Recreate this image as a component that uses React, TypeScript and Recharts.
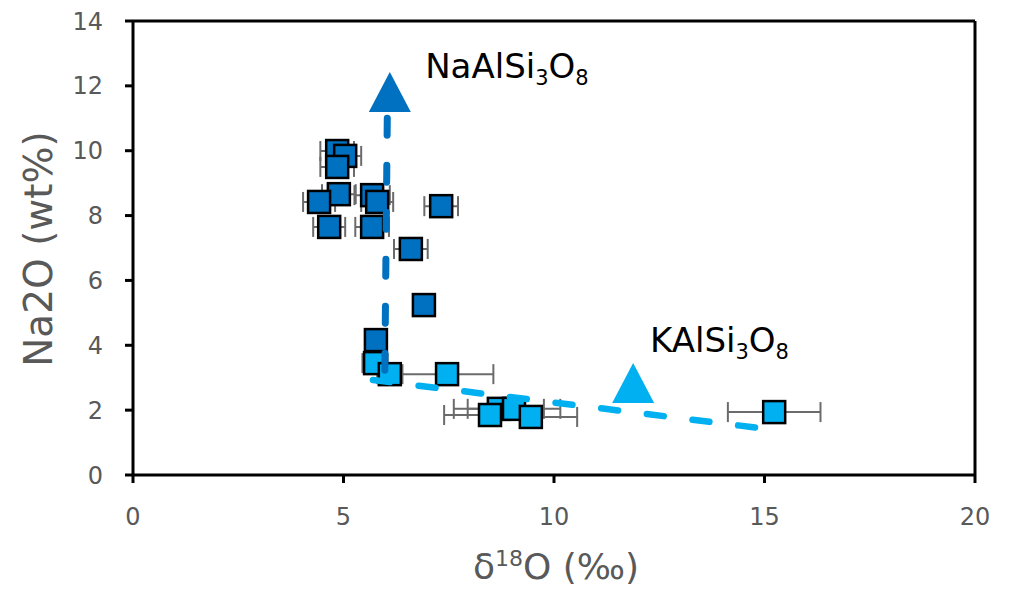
import React from 'react';
import { ScatterChart, Scatter, XAxis, YAxis, ErrorBar, ReferenceLine } from 'recharts';

// Na-rich feldspar analyses (dark blue)
const naX = [4.85, 5.04, 4.85, 4.89, 4.42, 5.68, 5.80, 4.66, 5.68, 7.32, 6.60, 6.91, 5.77];
const naY = [9.99, 9.84, 9.50, 8.66, 8.42, 8.63, 8.42, 7.65, 7.65, 8.29, 6.97, 5.24, 4.16];
const naErr = [0.4, 0.38, 0.4, 0.4, 0.38, 0.42, 0.38, 0.38, 0.4, 0.4, 0.4, 0.2, 0.2];

// K-rich feldspar analyses (light blue)
const kX = [5.75, 6.10, 7.46, 8.69, 9.05, 8.48, 9.45, 15.23];
const kY = [3.45, 3.11, 3.11, 2.04, 2.04, 1.85, 1.79, 1.94];
const kErr = [0.3, 0.3, 1.1, 1.07, 1.1, 1.09, 1.1, 1.1];

// Mixing lines
const naLineX = [6.04, 5.98];
const naLineY = [11.0, 3.0];
const kLineX = [5.70, 15.06];
const kLineY = [2.93, 1.42];

// End-members (triangles)
const endNaX = [6.1];
const endNaY = [11.81];
const endKX = [11.88];
const endKY = [2.84];

// Annotation labels
const labelX = [6.94, 12.28];
const labelY = [12.24, 3.79];
const labelMain = ['NaAlSi', 'KAlSi'];

const xTicks = [0, 5, 10, 15, 20];
const yTicks = [0, 2, 4, 6, 8, 10, 12, 14];

const DARK = '#0070C0';
const LIGHT = '#00B0F0';
const FONT = '"DejaVu Sans", sans-serif';
const GREY = '#595959';

const naData = naX.map((x, i) => ({ x, y: naY[i], xerr: naErr[i] }));
const kData = kX.map((x, i) => ({ x, y: kY[i], xerr: kErr[i] }));
const naLine = naLineX.map((x, i) => ({ x, y: naLineY[i] }));
const kLine = kLineX.map((x, i) => ({ x, y: kLineY[i] }));
const endNa = endNaX.map((x, i) => ({ x, y: endNaY[i] }));
const endK = endKX.map((x, i) => ({ x, y: endKY[i] }));
const labels = labelX.map((x, i) => ({ x, y: labelY[i], name: labelMain[i] }));

const makeSquare = (color: string) => (props: any) => {
  const { cx, cy } = props;
  if (cx == null || cy == null) return <g />;
  return (
    <rect x={cx - 11} y={cy - 11} width={22} height={22} fill={color} stroke="#000" strokeWidth={2.5} />
  );
};

const makeTriangle = (color: string) => (props: any) => {
  const { cx, cy } = props;
  if (cx == null || cy == null) return <g />;
  return (
    <polygon
      points={`${cx},${cy - 20} ${cx - 21},${cy + 20} ${cx + 21},${cy + 20}`}
      fill={color}
    />
  );
};

const Nothing = () => <g />;

const LabelShape = (props: any) => {
  const { cx, cy, payload } = props;
  if (cx == null || cy == null) return <g />;
  return (
    <text x={cx} y={cy} fontSize={34} fontFamily={FONT} fill="#000">
      <tspan>{payload.name}</tspan>
      <tspan fontSize={21} dy={7}>3</tspan>
      <tspan dy={-7}>O</tspan>
      <tspan fontSize={21} dy={7}>8</tspan>
    </text>
  );
};

const YTitle = (props: any) => {
  const vb = props.viewBox || { x: 0, y: 13, width: 125, height: 454 };
  const x = vb.x + 44;
  const y = vb.y + vb.height / 2 + 1;
  return (
    <text
      x={x}
      y={y}
      transform={`rotate(-90, ${x}, ${y})`}
      textAnchor="middle"
      fontSize={39}
      fontFamily={FONT}
      fill={GREY}
    >
      Na2O (wt%)
    </text>
  );
};

const XTitle = (props: any) => {
  const vb = props.viewBox || { x: 125, y: 467, width: 842, height: 114 };
  const x = vb.x + vb.width / 2 + 2;
  const y = vb.y + 104;
  return (
    <text x={x} y={y} textAnchor="middle" fontSize={36} fontFamily={FONT} fill={GREY}>
      <tspan>δ</tspan>
      <tspan fontSize={22} dy={-13}>18</tspan>
      <tspan dy={13}>O (‰)</tspan>
    </text>
  );
};

export default function App() {
  return (
    <ScatterChart
      width={1007}
      height={581}
      margin={{ top: 13, right: 40, bottom: 0, left: 0 }}
      style={{ fontFamily: FONT }}
    >
      <XAxis
        type="number"
        dataKey="x"
        domain={[0, 20]}
        ticks={xTicks}
        allowDataOverflow
        height={114}
        axisLine={{ stroke: '#000', strokeWidth: 3 }}
        tickLine={{ stroke: '#000', strokeWidth: 3 }}
        tickSize={8}
        tickMargin={25}
        tick={{ fill: GREY, fontSize: 24, fontFamily: FONT }}
        label={{ content: XTitle }}
      />
      <YAxis
        type="number"
        dataKey="y"
        domain={[0, 14]}
        ticks={yTicks}
        allowDataOverflow
        width={125}
        axisLine={{ stroke: '#000', strokeWidth: 3 }}
        tickLine={{ stroke: '#000', strokeWidth: 3 }}
        tickSize={8}
        tickMargin={22}
        tick={{ fill: GREY, fontSize: 24, fontFamily: FONT }}
        label={{ content: YTitle }}
      />
      <ReferenceLine y={14} stroke="#000" strokeWidth={3} />
      <ReferenceLine x={20} stroke="#000" strokeWidth={3} />

      <Scatter data={naData} shape={makeSquare(DARK)} isAnimationActive={false}>
        <ErrorBar dataKey="xerr" direction="x" width={10} stroke="#6b6b6b" strokeWidth={2} />
      </Scatter>
      <Scatter data={kData} shape={makeSquare(LIGHT)} isAnimationActive={false}>
        <ErrorBar dataKey="xerr" direction="x" width={10} stroke="#6b6b6b" strokeWidth={2} />
      </Scatter>

      <Scatter
        data={naLine}
        shape={Nothing}
        line={{ stroke: DARK, strokeWidth: 7, strokeDasharray: '17 30', strokeLinecap: 'round' }}
        isAnimationActive={false}
      />
      <Scatter
        data={kLine}
        shape={Nothing}
        line={{ stroke: LIGHT, strokeWidth: 6.5, strokeDasharray: '17 29', strokeLinecap: 'round' }}
        isAnimationActive={false}
      />
      <Scatter data={endNa} shape={makeTriangle(DARK)} isAnimationActive={false} />
      <Scatter data={endK} shape={makeTriangle(LIGHT)} isAnimationActive={false} />
      <Scatter data={labels} shape={LabelShape} isAnimationActive={false} />
    </ScatterChart>
  );
}
